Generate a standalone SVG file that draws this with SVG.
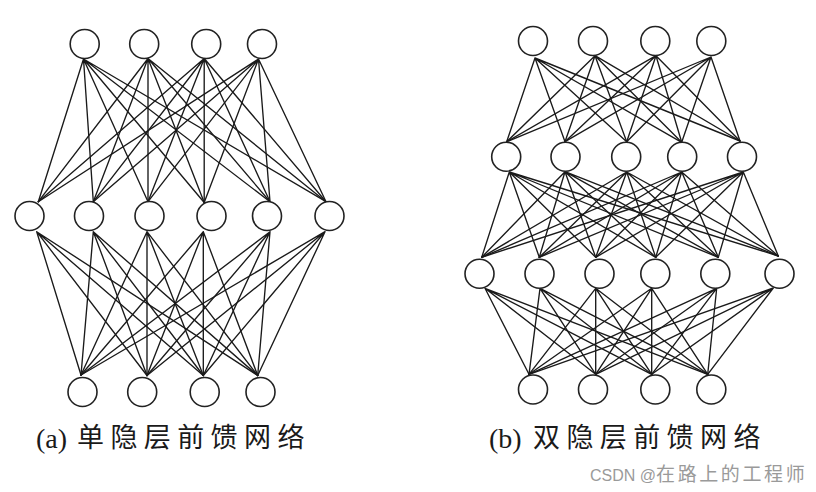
<svg xmlns="http://www.w3.org/2000/svg" width="816" height="492" viewBox="0 0 816 492">
<style>
.edge{fill:none;stroke:#1a1a1a;stroke-width:1.35;stroke-linecap:round}
.node{fill:#fff;stroke:#222;stroke-width:1.6}
.lat{font-family:"Liberation Serif",serif;font-size:28px;fill:#1a1a1a}
.cjk{font-family:"Noto Sans CJK SC","Noto Sans CJK JP",sans-serif;font-size:27px;fill:#1a1a1a;letter-spacing:6.4px}
.wm{font-family:"Liberation Sans","Noto Sans CJK SC",sans-serif;font-size:16px;fill:#9a9a9a}
.wmc{font-family:"Noto Sans CJK SC",sans-serif;font-size:19px;letter-spacing:2.6px}
</style>
<rect width="816" height="492" fill="#fff"/>
<g id="connectors">
<!-- (a) input to hidden -->
<path class="edge" d="M83.5 59L38.3 201.7M83.5 59L93.3 201.7M83.5 59L148 201.7M83.5 59L204.2 202.5M83.5 59L270 201.7M83.5 59L326 201.7"/>
<path class="edge" d="M148 58.5L38.3 201.7M148 58.5L93.3 201.7M148 58.5L148 201.7M148 58.5L204.2 202.5M148 58.5L270 201.7M148 58.5L326 201.7"/>
<path class="edge" d="M204.2 58.5L38.3 201.7M204.2 58.5L93.3 201.7M204.2 58.5L148 201.7M204.2 58.5L204.2 202.5M204.2 58.5L270 201.7M204.2 58.5L326 201.7"/>
<path class="edge" d="M258.5 59L38.3 201.7M258.5 59L93.3 201.7M258.5 59L148 201.7M258.5 59L204.2 202.5M258.5 59L270 201.7M258.5 59L326 201.7"/>
<!-- (a) hidden to output -->
<path class="edge" d="M36.7 231.7L81 375M36.7 231.7L147 375.5M36.7 231.7L203.3 375.5M36.7 231.7L257.7 375.5"/>
<path class="edge" d="M93.3 231.7L81 375M93.3 231.7L147 375.5M93.3 231.7L203.3 375.5M93.3 231.7L257.7 375.5"/>
<path class="edge" d="M147 231.7L81 375M147 231.7L147 375.5M147 231.7L203.3 375.5M147 231.7L257.7 375.5"/>
<path class="edge" d="M203.3 231.7L81 375M203.3 231.7L147 375.5M203.3 231.7L203.3 375.5M203.3 231.7L257.7 375.5"/>
<path class="edge" d="M270 231.7L81 375M270 231.7L147 375.5M270 231.7L203.3 375.5M270 231.7L257.7 375.5"/>
<path class="edge" d="M325 231.7L81 375M325 231.7L147 375.5M325 231.7L203.3 375.5M325 231.7L257.7 375.5"/>
<!-- (b) input to hidden 1 -->
<path class="edge" d="M535 58L506.7 141.7M535 58L565 141.7M535 58L626.7 141.7M535 58L681.7 142.3M535 58L740 141"/>
<path class="edge" d="M595 55.7L506.7 141.7M595 55.7L565 141.7M595 55.7L626.7 141.7M595 55.7L681.7 142.3M595 55.7L740 141"/>
<path class="edge" d="M656 55.7L506.7 141.7M656 55.7L565 141.7M656 55.7L626.7 141.7M656 55.7L681.7 142.3M656 55.7L740 141"/>
<path class="edge" d="M711 57L506.7 141.7M711 57L565 141.7M711 57L626.7 141.7M711 57L681.7 142.3M711 57L740 141"/>
<!-- (b) hidden 1 to hidden 2 -->
<path class="edge" d="M509.3 172L481.7 257.3M509.3 172L539.3 257.3M509.3 172L595.7 257.3M509.3 172L655.7 257.3M509.3 172L718.3 257.3M509.3 172L778.3 256"/>
<path class="edge" d="M565 171.7L481.7 257.3M565 171.7L539.3 257.3M565 171.7L595.7 257.3M565 171.7L655.7 257.3M565 171.7L718.3 257.3M565 171.7L778.3 256"/>
<path class="edge" d="M626.7 172L481.7 257.3M626.7 172L539.3 257.3M626.7 172L595.7 257.3M626.7 172L655.7 257.3M626.7 172L718.3 257.3M626.7 172L778.3 256"/>
<path class="edge" d="M681.7 172L481.7 257.3M681.7 172L539.3 257.3M681.7 172L595.7 257.3M681.7 172L655.7 257.3M681.7 172L718.3 257.3M681.7 172L778.3 256"/>
<path class="edge" d="M743.3 172L481.7 257.3M743.3 172L539.3 257.3M743.3 172L595.7 257.3M743.3 172L655.7 257.3M743.3 172L718.3 257.3M743.3 172L778.3 256"/>
<!-- (b) hidden 2 to output -->
<path class="edge" d="M485 288.3L529 374.3M485 288.3L595.7 374.3M485 288.3L651.7 374.3M485 288.3L707.7 374.3"/>
<path class="edge" d="M540 288.3L529 374.3M540 288.3L595.7 374.3M540 288.3L651.7 374.3M540 288.3L707.7 374.3"/>
<path class="edge" d="M595.7 288.3L529 374.3M595.7 288.3L595.7 374.3M595.7 288.3L651.7 374.3M595.7 288.3L707.7 374.3"/>
<path class="edge" d="M651.7 288.3L529 374.3M651.7 288.3L595.7 374.3M651.7 288.3L651.7 374.3M651.7 288.3L707.7 374.3"/>
<path class="edge" d="M716.7 288.3L529 374.3M716.7 288.3L595.7 374.3M716.7 288.3L651.7 374.3M716.7 288.3L707.7 374.3"/>
<path class="edge" d="M773.3 288L529 374.3M773.3 288L595.7 374.3M773.3 288L651.7 374.3M773.3 288L707.7 374.3"/>
</g>
<!-- network (a) -->
<g id="a-in1"><circle class="node" cx="84.7" cy="44" r="14.5"/></g>
<g id="a-in2"><circle class="node" cx="144.2" cy="44" r="14.5"/></g>
<g id="a-in3"><circle class="node" cx="206.2" cy="44" r="14.5"/></g>
<g id="a-in4"><circle class="node" cx="262" cy="44" r="14.5"/></g>
<g id="a-h1"><circle class="node" cx="29.5" cy="216" r="14.5"/></g>
<g id="a-h2"><circle class="node" cx="89" cy="216" r="14.5"/></g>
<g id="a-h3"><circle class="node" cx="149.5" cy="216" r="14.5"/></g>
<g id="a-h4"><circle class="node" cx="211.5" cy="216" r="14.5"/></g>
<g id="a-h5"><circle class="node" cx="267" cy="216" r="14.5"/></g>
<g id="a-h6"><circle class="node" cx="329.5" cy="216" r="14.5"/></g>
<g id="a-out1"><circle class="node" cx="82.5" cy="392" r="14.5"/></g>
<g id="a-out2"><circle class="node" cx="142.2" cy="392" r="14.5"/></g>
<g id="a-out3"><circle class="node" cx="204.7" cy="392" r="14.5"/></g>
<g id="a-out4"><circle class="node" cx="260.5" cy="392" r="14.5"/></g>
<!-- network (b) -->
<g id="b-in1"><circle class="node" cx="533" cy="41" r="14.5"/></g>
<g id="b-in2"><circle class="node" cx="593" cy="41" r="14.5"/></g>
<g id="b-in3"><circle class="node" cx="655.3" cy="41" r="14.5"/></g>
<g id="b-in4"><circle class="node" cx="711.3" cy="41" r="14.5"/></g>
<g id="b-h1-1"><circle class="node" cx="506.2" cy="156.7" r="14.5"/></g>
<g id="b-h1-2"><circle class="node" cx="565.5" cy="156.7" r="14.5"/></g>
<g id="b-h1-3"><circle class="node" cx="626.2" cy="156.7" r="14.5"/></g>
<g id="b-h1-4"><circle class="node" cx="682.2" cy="156.7" r="14.5"/></g>
<g id="b-h1-5"><circle class="node" cx="742" cy="156.7" r="14.5"/></g>
<g id="b-h2-1"><circle class="node" cx="479.5" cy="273.7" r="14.5"/></g>
<g id="b-h2-2"><circle class="node" cx="539.5" cy="273.7" r="14.5"/></g>
<g id="b-h2-3"><circle class="node" cx="599.5" cy="273.7" r="14.5"/></g>
<g id="b-h2-4"><circle class="node" cx="655.3" cy="273.7" r="14.5"/></g>
<g id="b-h2-5"><circle class="node" cx="715.3" cy="273.7" r="14.5"/></g>
<g id="b-h2-6"><circle class="node" cx="779.5" cy="273.7" r="14.5"/></g>
<g id="b-out1"><circle class="node" cx="533" cy="389.5" r="14.5"/></g>
<g id="b-out2"><circle class="node" cx="593" cy="389.5" r="14.5"/></g>
<g id="b-out3"><circle class="node" cx="655.3" cy="389.5" r="14.5"/></g>
<g id="b-out4"><circle class="node" cx="711.3" cy="389.5" r="14.5"/></g>
<!-- captions -->
<g id="caption-a">
<text class="lat" x="36" y="448">(a)</text>
<text class="cjk" x="77" y="447">单隐层前馈网络</text>
</g>
<g id="caption-b">
<text class="lat" x="489" y="448">(b)</text>
<text class="cjk" x="533" y="447">双隐层前馈网络</text>
</g>
<g id="watermark">
<text class="wm" x="590" y="481">CSDN @<tspan class="wmc">在路上的工程师</tspan></text>
</g>
</svg>
